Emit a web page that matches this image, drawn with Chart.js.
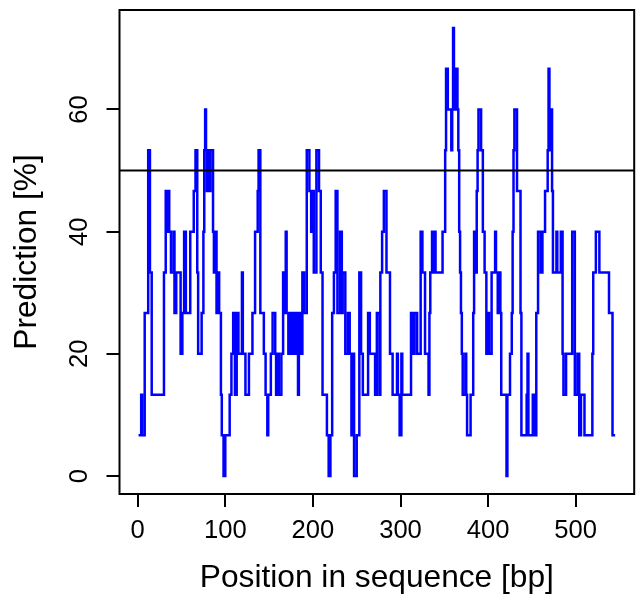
<!DOCTYPE html>
<html>
<head>
<meta charset="utf-8">
<script src="https://cdn.jsdelivr.net/npm/chart.js@4/dist/chart.umd.min.js"></script>
<style>
  html, body { margin: 0; padding: 0; background: #fff; }
  #wrap { width: 637px; height: 599px; }
</style>
</head>
<body>
<div id="wrap"><canvas id="grafico" width="637" height="599"></canvas></div>
<script>
// position where each prediction level starts (bp)
const pos = [1, 4, 5, 8, 12, 14, 16, 30, 32, 34, 35, 36, 38, 41, 42, 44, 49, 51, 53, 55,
  60, 64, 66, 68, 69, 73, 75, 76, 77, 78, 79, 80, 81, 83, 86, 87, 88, 90, 91, 93,
  95, 96, 98, 100, 105, 107, 109, 111, 113, 115, 119, 120, 123, 127, 131, 134, 137, 138, 140, 144,
  146, 148, 149, 152, 154, 157, 158, 160, 161, 164, 166, 167, 169, 170, 172, 173, 175, 176, 178, 180,
  182, 183, 184, 186, 188, 190, 193, 196, 198, 199, 201, 204, 207, 209, 211, 216, 218, 220, 222, 224,
  226, 228, 231, 233, 234, 237, 240, 242, 244, 246, 247, 250, 253, 255, 257, 263, 265, 271, 273, 276,
  277, 279, 281, 284, 288, 291, 296, 297, 299, 301, 302, 312, 314, 316, 319, 323, 325, 328, 332, 333,
  334, 336, 338, 339, 340, 348, 351, 352, 354, 358, 359, 360, 361, 362, 363, 365, 366, 367, 368, 369,
  370, 371, 374, 375, 376, 380, 383, 384, 386, 387, 388, 389, 392, 394, 396, 398, 400, 401, 404, 408,
  409, 411, 412, 414, 415, 421, 422, 425, 427, 428, 429, 430, 433, 437, 438, 444, 445, 446, 451, 453,
  455, 457, 460, 462, 465, 468, 469, 470, 471, 473, 474, 478, 479, 483, 485, 486, 489, 496, 499, 502,
  504, 506, 510, 519, 520, 523, 527, 538, 542, 545];

// prediction [%] from that position on
const pred = [6.67, 13.33, 6.67, 26.67, 53.33, 33.33, 13.33, 33.33, 46.67, 40, 46.67, 40, 33.33, 40, 26.67, 33.33, 20, 26.67, 40, 26.67,
  40, 46.67, 53.33, 33.33, 20, 26.67, 40, 53.33, 60, 53.33, 46.67, 53.33, 46.67, 53.33, 40, 33.33, 40, 26.67, 33.33, 26.67,
  13.33, 6.67, 0, 6.67, 13.33, 20, 26.67, 13.33, 26.67, 20, 33.33, 20, 13.33, 20, 26.67, 40, 46.67, 53.33, 26.67, 20,
  13.33, 6.67, 13.33, 20, 26.67, 20, 13.33, 20, 13.33, 20, 33.33, 26.67, 40, 26.67, 20, 26.67, 20, 26.67, 20, 26.67,
  20, 13.33, 26.67, 20, 33.33, 26.67, 53.33, 46.67, 40, 46.67, 33.33, 53.33, 46.67, 33.33, 13.33, 6.67, 0, 6.67, 26.67, 33.33,
  46.67, 26.67, 40, 26.67, 33.33, 20, 26.67, 20, 6.67, 20, 0, 6.67, 33.33, 20, 13.33, 26.67, 20, 13.33, 26.67, 13.33,
  33.33, 40, 46.67, 33.33, 20, 13.33, 20, 13.33, 6.67, 20, 13.33, 26.67, 20, 26.67, 20, 40, 33.33, 20, 13.33, 26.67,
  33.33, 40, 33.33, 40, 33.33, 40, 53.33, 66.67, 60, 53.33, 60, 73.33, 66.67, 60, 66.67, 60, 53.33, 40, 33.33, 26.67,
  20, 13.33, 20, 13.33, 6.67, 13.33, 26.67, 40, 33.33, 46.67, 53.33, 60, 53.33, 40, 33.33, 20, 26.67, 20, 33.33, 40,
  33.33, 26.67, 33.33, 26.67, 13.33, 0, 13.33, 20, 26.67, 40, 53.33, 60, 46.67, 26.67, 6.67, 13.33, 20, 6.67, 13.33, 6.67,
  26.67, 40, 33.33, 40, 46.67, 53.33, 66.67, 53.33, 60, 46.67, 33.33, 40, 33.33, 40, 20, 13.33, 20, 40, 13.33, 20,
  6.67, 13.33, 6.67, 20, 33.33, 40, 33.33, 26.67, 6.67, 6.67];

const xTicks = [0, 100, 200, 300, 400, 500];
const yTicks = [0, 20, 40, 60];
const soglia = 50;

const punti = pos.map((p, i) => ({ x: p, y: pred[i] }));

const box = {
  id: "box",
  afterDatasetsDraw(chart) {
    const { ctx, chartArea: a, scales } = chart;
    const y = scales.y.getPixelForValue(soglia);
    ctx.save();
    ctx.strokeStyle = "#000";
    ctx.lineWidth = 2;
    ctx.beginPath();
    ctx.moveTo(a.left, y);
    ctx.lineTo(a.right, y);
    ctx.stroke();
    ctx.strokeRect(a.left, a.top, a.right - a.left, a.bottom - a.top);
    ctx.restore();
  }
};

const font = "'Liberation Sans', Arial, Helvetica, sans-serif";

new Chart(document.getElementById("grafico"), {
  type: "line",
  data: {
    datasets: [{
      data: punti,
      borderColor: "#0000ff",
      borderWidth: 2.5,
      pointRadius: 0,
      stepped: true,
      fill: false
    }]
  },
  options: {
    responsive: false,
    animation: false,
    layout: { padding: { top: 10, right: 2.8, left: 0, bottom: 0 } },
    plugins: { legend: { display: false }, tooltip: { enabled: false } },
    scales: {
      x: {
        type: "linear",
        min: -20.76,
        max: 566.76,
        afterBuildTicks: s => { s.ticks = xTicks.map(v => ({ value: v })); },
        afterFit: s => {
          s.height = 105;
          s.paddingLeft = 0; s.paddingRight = 0;
        },
        grid: { drawOnChartArea: false, drawTicks: true, tickLength: 13, color: "#000", lineWidth: 2 },
        border: { display: false },
        ticks: { autoSkip: false, maxRotation: 0, padding: 8.3, color: "#000", font: { family: font, size: 25.6 } },
        title: { display: true, text: "Position in sequence [bp]", color: "#000",
          font: { family: font, size: 31.7 }, padding: { top: 0, bottom: 2 } }
      },
      y: {
        type: "linear",
        min: -2.93,
        max: 76.27,
        afterBuildTicks: s => { s.ticks = yTicks.map(v => ({ value: v })); },
        afterFit: s => {
          s.width = 119.5;
          s.paddingTop = 0; s.paddingBottom = 0;
        },
        grid: { drawOnChartArea: false, drawTicks: true, tickLength: 13, color: "#000", lineWidth: 2 },
        border: { display: false },
        ticks: { autoSkip: false, minRotation: 90, maxRotation: 90, crossAlign: "center", padding: 12.2,
          color: "#000", font: { family: font, size: 25.6 } },
        title: { display: true, text: "Prediction [%]", color: "#000",
          font: { family: font, size: 31.7 }, padding: { top: 8.6, bottom: 0 } }
      }
    }
  },
  plugins: [box]
});
</script>
</body>
</html>
